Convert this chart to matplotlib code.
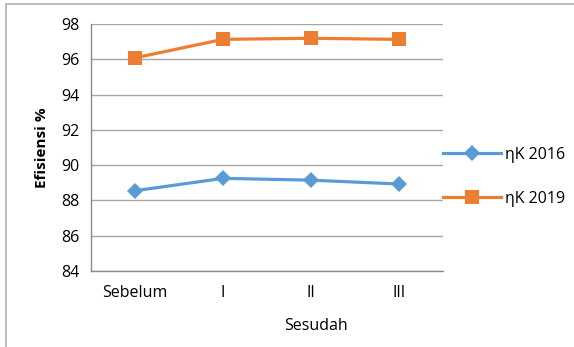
import matplotlib
matplotlib.use("Agg")
import matplotlib.pyplot as plt
from matplotlib.patches import Rectangle

categories = ["Sebelum", "I", "II", "III"]
eff_2016 = [88.55, 89.25, 89.15, 88.93]
eff_2019 = [96.08, 97.13, 97.19, 97.13]
y_ticks = [84, 86, 88, 90, 92, 94, 96, 98]

plt.rcParams['font.family'] = ['Open Sans', 'DejaVu Sans']

W, H = 574, 347
FS = 11.5
fig = plt.figure(figsize=(W / 100, H / 100), dpi=100)
ax = fig.add_axes([91 / W, 1 - 271 / H, (443 - 91) / W, (271 - 24) / H])

x = list(range(len(categories)))
ax.plot(x, eff_2016, color="#5B9BD5", lw=2.3, marker="D", ms=8.5,
        markeredgewidth=0, label="ηK 2016")
ax.plot(x, eff_2019, color="#ED7D31", lw=2.3, marker="s", ms=9.5,
        markeredgewidth=0, label="ηK 2019")

ax.set_xlim(-0.5, len(categories) - 0.5)
ax.set_ylim(84, 98)
ax.set_yticks(y_ticks)
ax.set_xticks(x)
ax.set_xticklabels(categories)
ax.tick_params(axis="both", length=0, labelsize=FS, colors="black")
ax.tick_params(axis="y", pad=8)
ax.tick_params(axis="x", pad=10)
ax.grid(axis="y", color="#a6a6a6", lw=1.0)
ax.set_axisbelow(True)
for s in ("top", "right"):
    ax.spines[s].set_visible(False)
ax.spines["left"].set_color("#8c8c8c")
ax.spines["bottom"].set_color("#8c8c8c")
ax.spines["left"].set_linewidth(1.0)
ax.spines["bottom"].set_linewidth(1.0)

ax.set_ylabel("Efisiensi %", fontsize=FS - 0.5, fontweight="bold", labelpad=9)
fig.text(316 / W, 1 - 326 / H, "Sesudah", ha="center", va="center", fontsize=FS)

leg = ax.legend(loc="center left", bbox_to_anchor=(443 / W, 1 - 177 / H),
                bbox_transform=fig.transFigure, frameon=False, fontsize=FS,
                handlelength=3.6, handletextpad=0.3, labelspacing=1.75,
                borderaxespad=0, borderpad=0)

fig.patches.append(Rectangle((6 / W, -0.1), 1.2, 1 - 4 / H + 0.1,
                             transform=fig.transFigure, fill=False,
                             edgecolor="#b0b0b0", lw=1.2))

fig.savefig("out.png", dpi=100)
